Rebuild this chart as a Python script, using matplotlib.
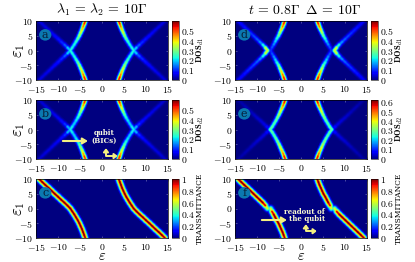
#recreate the six DOS / transmittance maps as glowing ridges on a jet background
import numpy as np
import matplotlib
matplotlib.use('Agg')
import matplotlib.pyplot as plt
from matplotlib.collections import LineCollection
from matplotlib.cm import ScalarMappable
from matplotlib.colors import Normalize
from matplotlib.patches import Ellipse

plt.rcParams['mathtext.fontset'] = 'cm'
plt.rcParams['font.family'] = ['DejaVu Serif']

W, H = 415, 262

# ridges: eps of the left branches at eps1 = 0..10,
# the other three quadrants are the same curves flipped
eps1_knots = [0, 1, 2, 3, 4, 5, 6, 7, 8, 9, 10]
bright_eps = [-7.2, -6.75, -6.3, -5.9, -5.5, -5.15, -4.85, -4.55, -4.3, -4.05, -3.8]
faint_eps = [-7.2, -7.85, -8.55, -9.3, -10.0, -10.75, -11.45, -12.15, -12.9, -13.6, -14.3]

a_bright_val = [0.24, 0.22, 0.22, 0.24, 0.27, 0.31, 0.35, 0.39, 0.44, 0.5, 0.56]
a_faint_val = [0.24, 0.15, 0.11, 0.09, 0.08, 0.07, 0.06, 0.06, 0.05, 0.05, 0.05]
b_bright_val = [0.24, 0.2, 0.19, 0.2, 0.23, 0.26, 0.3, 0.35, 0.41, 0.48, 0.55]
b_faint_val = [0.24, 0.12, 0.09, 0.07, 0.06, 0.06, 0.05, 0.05, 0.05, 0.04, 0.04]

d_bright_eps = [-6.9, -6.6, -6.2, -5.85, -5.5, -5.1, -4.8, -4.5, -4.2, -3.95, -3.7]
d_faint_eps = [-7.6, -8.1, -8.7, -9.4, -10.1, -10.8, -11.5, -12.2, -12.9, -13.6, -14.3]
d_bright_val = [0.1, 0.11, 0.14, 0.18, 0.22, 0.27, 0.32, 0.38, 0.44, 0.5, 0.56]
d_faint_val = [0.44, 0.28, 0.18, 0.14, 0.12, 0.11, 0.1, 0.09, 0.08, 0.07, 0.07]

e_bright_eps = [-7.0, -6.5, -6.1, -5.7, -5.35, -5.0, -4.7, -4.4, -4.1, -3.85, -3.6]
e_faint_eps = [-7.0, -7.8, -8.5, -9.2, -10.0, -10.7, -11.4, -12.1, -12.8, -13.5, -14.2]
e_bright_val = [0.3, 0.27, 0.27, 0.28, 0.3, 0.33, 0.37, 0.41, 0.46, 0.52, 0.58]
e_faint_val = [0.1, 0.06, 0.05, 0.05, 0.04, 0.04, 0.03, 0.03, 0.03, 0.02, 0.02]

c_up_val = [1, 1, 1, 1, 1, 1, 1, 1, 1, 1, 0.95]
c_down_val = [1, 1, 1, 1, 1, 1, 1, 1, 1, 1, 0.95]
f_up_val = [0.4, 0.85, 1, 1, 1, 1, 1, 1, 1, 1, 0.95]
f_down_val = [0.4, 0.85, 1, 1, 1, 1, 1, 1, 1, 1, 0.95]

# layers of the glow: share of the peak value, width in points
GLOW_DOS = [(0.12, 5.0), (0.25, 4.0), (0.45, 3.1), (0.7, 2.2), (0.85, 1.5), (1.0, 0.9)]
GLOW_TRANS = [(0.05, 6.8), (0.13, 5.8), (0.28, 4.8), (0.42, 3.9), (0.58, 3.1), (0.72, 2.3), (0.88, 1.5), (1.0, 0.9)]


def draw_ridges(ax, ridges, norm, glow):
    # painted from low to high value, so crossings show the larger of the two
    segs, vals, widths = [], [], []
    for eps, eps1, val in ridges:
        pts = np.column_stack([eps, eps1])
        seg_val = (np.array(val[:-1]) + np.array(val[1:])) / 2
        for i, v in enumerate(seg_val):
            for share, lw in glow:
                segs.append(pts[i:i + 2])
                vals.append(v * share)
                widths.append(lw)
    order = np.argsort(vals, kind='stable')
    lc = LineCollection([segs[i] for i in order], cmap='jet', norm=norm,
                        linewidths=[widths[i] for i in order], capstyle='round')
    lc.set_array(np.array(vals)[order])
    ax.add_collection(lc)


def four_quadrants(eps, val):
    e = np.array(eps)
    k = np.array(eps1_knots)
    return [(sx * e, sy * k, val) for sx, sy in [(1, 1), (1, -1), (-1, 1), (-1, -1)]]


def falling_curves(up_eps, up_val, down_eps, down_val):
    # falling curve on each side: far branch above, near branch below, and flipped
    up = np.array(up_eps)
    down = np.array(down_eps)
    k = np.array(eps1_knots)
    return [(up, k, up_val), (down, -k, down_val), (-up, -k, up_val), (-down, k, down_val)]


def panel(left, top, letter, vmax, cb_ticks, cb_label, cb_size):
    ax = fig.add_axes([left / W, 1 - (top + 59) / H, 132 / W, 59 / H])
    ax.set_facecolor(plt.get_cmap('jet')(0.0))
    ax.set_xlim(-15, 15)
    ax.set_ylim(-10, 10)
    ax.set_xticks([-15, -10, -5, 0, 5, 10, 15])
    ax.set_xticklabels(['$-15$', '$-10$', '$-5$', '$0$', '$5$', '$10$', '$15$'])
    ax.set_yticks([-10, -5, 0, 5, 10])
    ax.set_yticklabels(['$-10$', '$-5$', '$0$', '$5$', '$10$'])
    ax.tick_params(labelsize=7, length=1.5, width=0.4, direction='in', top=True, right=True, pad=2,
                   color='#8080c0')
    ax.tick_params(axis='x', pad=2.8)
    for s in ax.spines.values():
        s.set_linewidth(0.5)
    norm = Normalize(0, vmax)
    ax.add_patch(Ellipse((-12.9, 5.3), 2.8, 3.9, fc='#0b78b0', ec='none', zorder=5))
    ax.text(-12.9, 5.2, letter, color='#07203a', fontsize=8, ha='center', va='center', zorder=6)

    cax = fig.add_axes([(left + 135.5) / W, 1 - (top + 59) / H, 7 / W, 59 / H])
    cb = fig.colorbar(ScalarMappable(norm=norm, cmap='jet'), cax=cax)
    cb.set_ticks(cb_ticks)
    cb.set_ticklabels(['$%g$' % t for t in cb_ticks])
    cb.ax.tick_params(labelsize=7, length=0, pad=2)
    cb.outline.set_linewidth(0.4)
    fig.text((left + 164) / W, 1 - (top + 29.5) / H, cb_label, rotation=90, fontsize=cb_size,
             ha='center', va='center')
    return ax, norm


def l_arrow(ax, x0, y0, x1, y1):
    ax.annotate('', xy=(x1, y1), xytext=(x0, y0),
                arrowprops=dict(arrowstyle='<|-|>,head_length=0.2,head_width=0.15', color='#f4f080', lw=1.4,
                                shrinkA=0, shrinkB=0, connectionstyle='angle,angleA=90,angleB=0,rad=0'),
                zorder=7)


def long_arrow(ax, x0, x1, y):
    ax.annotate('', xy=(x1, y), xytext=(x0, y),
                arrowprops=dict(arrowstyle='-|>,head_length=0.3,head_width=0.18', color='#f4f080', lw=1.5,
                                shrinkA=0, shrinkB=0), zorder=7)


fig = plt.figure(figsize=(W / 100, H / 100), dpi=100)

dos_ticks = [0, 0.1, 0.2, 0.3, 0.4, 0.5]
dos_ticks_e = dos_ticks + [0.6]
trans_ticks = [0, 0.2, 0.4, 0.6, 0.8, 1]

ax, norm = panel(36, 21, 'a', 0.6, dos_ticks, r'$\mathbf{DOS}_{d1}$', 6.2)
draw_ridges(ax, four_quadrants(faint_eps, a_faint_val) + four_quadrants(bright_eps, a_bright_val), norm, GLOW_DOS)

ax, norm = panel(36, 100, 'b', 0.6, dos_ticks, r'$\mathbf{DOS}_{d2}$', 6.2)
draw_ridges(ax, four_quadrants(faint_eps, b_faint_val) + four_quadrants(bright_eps, b_bright_val), norm, GLOW_DOS)
ax.text(0.5, -1.3, 'qubit', color='#f8f8e0', fontsize=5, fontweight='bold', ha='center', va='center', zorder=7)
ax.text(0.5, -3.9, '(BICs)', color='#f8f8e0', fontsize=5, fontweight='bold', ha='center', va='center', zorder=7)
long_arrow(ax, -8.9, -3.2, -3.9)
l_arrow(ax, 0.9, -6.3, 3.6, -9.0)

ax, norm = panel(36, 179, 'c', 1.0, trans_ticks, 'TRANSMITTANCE', 5.4)
draw_ridges(ax, falling_curves(faint_eps, c_up_val, bright_eps, c_down_val), norm, GLOW_TRANS)

ax, norm = panel(235, 21, 'd', 0.6, dos_ticks, r'$\mathbf{DOS}_{d1}$', 6.2)
draw_ridges(ax, four_quadrants(d_bright_eps, d_bright_val) + four_quadrants(d_faint_eps, d_faint_val), norm, GLOW_DOS)

ax, norm = panel(235, 100, 'e', 0.62, dos_ticks_e, r'$\mathbf{DOS}_{d2}$', 6.2)
draw_ridges(ax, four_quadrants(e_faint_eps, e_faint_val) + four_quadrants(e_bright_eps, e_bright_val), norm, GLOW_DOS)

ax, norm = panel(235, 179, 'f', 1.0, trans_ticks, 'TRANSMITTANCE', 5.4)
draw_ridges(ax, falling_curves(d_faint_eps, f_up_val, d_bright_eps, f_down_val), norm, GLOW_TRANS)
ax.text(0.8, -1.2, 'readout of', color='#f8f8d0', fontsize=5, fontweight='bold', ha='center', va='center', zorder=7)
ax.text(1.4, -3.5, 'the qubit', color='#f8f8d0', fontsize=5, fontweight='bold', ha='center', va='center', zorder=7)
long_arrow(ax, -8.9, -3.2, -3.9)
l_arrow(ax, 1.1, -5.3, 3.6, -7.7)

for top in (21, 100, 179):
    fig.text(18 / W, 1 - (top + 30) / H, r'$\varepsilon_1$', fontsize=12, rotation=90, ha='center', va='center')
for x in (102, 301):
    fig.text(x / W, 1 - 256 / H, r'$\varepsilon$', fontsize=10.5, ha='center', va='center')

fig.text(102 / W, 1 - 9.5 / H, r'$\lambda_1\,=\,\lambda_2\,=\,10\Gamma$', fontsize=10, ha='center', va='center')
fig.text(305 / W, 1 - 9.5 / H, r'$t\,=\,0.8\Gamma\;\;\Delta\,=\,10\Gamma$', fontsize=10, ha='center', va='center')

fig.savefig('out.png', dpi=100)
